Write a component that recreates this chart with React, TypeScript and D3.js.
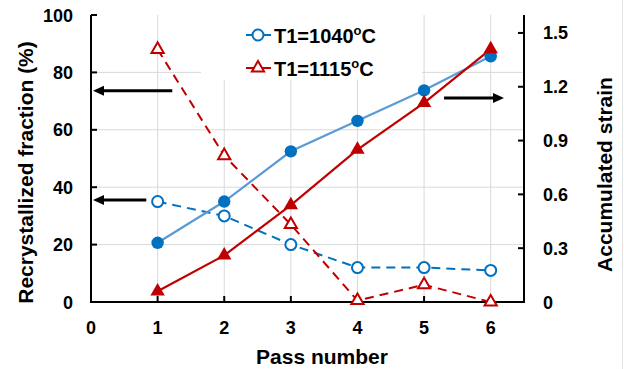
import React, { useEffect, useRef } from 'react';
import * as d3 from 'd3';

// pass numbers and the four series
const passes = [1, 2, 3, 4, 5, 6];
const frac1040 = [35, 30, 20, 12, 12, 11];
const frac1115 = [88, 51, 27, 0.5, 6, 0];
const strain1040 = [0.33, 0.56, 0.84, 1.01, 1.18, 1.37];
const strain1115 = [0.06, 0.26, 0.54, 0.85, 1.11, 1.41];

const xTicks = [0, 1, 2, 3, 4, 5, 6];
const leftTicks = [0, 20, 40, 60, 80, 100];
const rightTicks = [0, 0.3, 0.6, 0.9, 1.2, 1.5];

// annotation arrows: [fromPass, toPass, value, axis]
const arrows: [number, number, number, 'left' | 'right'][] = [
  [1.22, 0.03, 73.6, 'left'],
  [0.83, 0.03, 35.5, 'left'],
  [5.3, 6.2, 1.137, 'right'],
];

const BLUE = '#0070C0';
const LIGHTBLUE = '#5B9BD5';
const RED = '#C00000';
const FONT = '"Liberation Sans", Arial, sans-serif';

function App() {
  const svgRef = useRef<SVGSVGElement>(null);

  useEffect(() => {
    const width = 624;
    const height = 369;
    const margin = { top: 15, right: 100, bottom: 67, left: 91 };
    const innerW = width - margin.left - margin.right;
    const innerH = height - margin.top - margin.bottom;

    const root = d3.select(svgRef.current)
      .attr('width', width)
      .attr('height', height);
    root.selectAll('*').remove();

    root.append('rect').attr('width', width).attr('height', height).attr('fill', '#fff');
    root.append('line')
      .attr('x1', 622.5).attr('x2', 622.5).attr('y1', 0).attr('y2', height)
      .attr('stroke', '#e6e6e6');

    const svg = root.append('g')
      .attr('transform', `translate(${margin.left},${margin.top})`);

    const x = d3.scaleLinear().domain([0, 6.5]).range([0, innerW]);
    const yL = d3.scaleLinear().domain([0, 100]).range([innerH, 0]);
    const yR = d3.scaleLinear().domain([0, 1.6]).range([innerH, 0]);

    // grid
    svg.selectAll('.vgrid')
      .data(passes)
      .enter()
      .append('line')
      .attr('x1', d => x(d)).attr('x2', d => x(d))
      .attr('y1', 0).attr('y2', innerH)
      .attr('stroke', '#d9d9d9').attr('stroke-width', 1);
    svg.selectAll('.hgrid')
      .data([20, 40, 60, 80])
      .enter()
      .append('line')
      .attr('x1', 0).attr('x2', innerW)
      .attr('y1', d => yL(d)).attr('y2', d => yL(d))
      .attr('stroke', '#d9d9d9').attr('stroke-width', 1);

    // legend background covers the grid
    svg.append('rect')
      .attr('x', 110).attr('y', 0).attr('width', 221).attr('height', 65)
      .attr('fill', '#fff');

    // axes
    const axisG = svg.append('g').attr('stroke', '#000').attr('stroke-width', 2).attr('fill', 'none');
    axisG.append('line').attr('x1', 0).attr('x2', 0).attr('y1', 0).attr('y2', innerH + 1);
    axisG.append('line').attr('x1', innerW).attr('x2', innerW).attr('y1', 0).attr('y2', innerH + 1);
    axisG.append('line').attr('x1', -1).attr('x2', innerW + 1).attr('y1', innerH).attr('y2', innerH);
    leftTicks.forEach(t => {
      axisG.append('line').attr('x1', 0).attr('x2', 6).attr('y1', yL(t)).attr('y2', yL(t));
    });
    rightTicks.forEach(t => {
      axisG.append('line').attr('x1', innerW - 6).attr('x2', innerW).attr('y1', yR(t)).attr('y2', yR(t));
    });
    passes.forEach(t => {
      axisG.append('line').attr('x1', x(t)).attr('x2', x(t)).attr('y1', innerH - 6).attr('y2', innerH);
    });

    const label = (g: any) => g.attr('font-family', FONT).attr('font-weight', 'bold').attr('fill', '#000');

    svg.selectAll('.xl').data(xTicks).enter().append('text')
      .call(label).attr('font-size', 18)
      .attr('x', d => x(d)).attr('y', innerH + 32)
      .attr('text-anchor', 'middle').text(d => d);
    svg.selectAll('.yl').data(leftTicks).enter().append('text')
      .call(label).attr('font-size', 18)
      .attr('x', -18).attr('y', d => yL(d) + 6.5)
      .attr('text-anchor', 'end').text(d => d);
    svg.selectAll('.yr').data(rightTicks).enter().append('text')
      .call(label).attr('font-size', 18)
      .attr('x', innerW + 19).attr('y', d => yR(d) + 6.5)
      .attr('text-anchor', 'start').text(d => (d === 0 ? '0' : d.toFixed(1)));

    svg.append('text').call(label).attr('font-size', 21)
      .attr('x', 231).attr('y', innerH + 62)
      .attr('text-anchor', 'middle').text('Pass number');
    svg.append('text').call(label).attr('font-size', 21)
      .attr('transform', `translate(-58,${innerH / 2 + 14}) rotate(-90)`)
      .attr('text-anchor', 'middle').text('Recrystallized fraction (%)');
    svg.append('text').call(label).attr('font-size', 21)
      .attr('transform', `translate(${innerW + 88},${innerH / 2 + 16}) rotate(-90)`)
      .attr('text-anchor', 'middle').text('Accumulated strain');

    // arrows
    arrows.forEach(([from, to, v, side]) => {
      const yy = side === 'left' ? yL(v) : yR(v);
      const x1 = x(from);
      const x2 = x(to);
      const dir = Math.sign(x2 - x1);
      const headLen = 11;
      svg.append('line')
        .attr('x1', x1).attr('x2', x2 - dir * headLen)
        .attr('y1', yy).attr('y2', yy)
        .attr('stroke', '#000').attr('stroke-width', 3);
      svg.append('path')
        .attr('d', `M${x2},${yy} L${x2 - dir * headLen},${yy - 5} L${x2 - dir * headLen},${yy + 5} Z`)
        .attr('fill', '#000');
    });

    const tri = d3.symbol().type(d3.symbolTriangle).size(90);
    const triOpen = d3.symbol().type(d3.symbolTriangle).size(65);

    // recrystallized fraction (dashed, open markers, left axis)
    const lineL = d3.line<number>().x((_, i) => x(passes[i])).y(d => yL(d));
    const lineR = d3.line<number>().x((_, i) => x(passes[i])).y(d => yR(d));

    svg.append('path').datum(frac1040).attr('d', lineL)
      .attr('fill', 'none').attr('stroke', BLUE).attr('stroke-width', 2).attr('stroke-dasharray', '9,6');
    svg.append('path').datum(frac1115).attr('d', lineL)
      .attr('fill', 'none').attr('stroke', RED).attr('stroke-width', 2).attr('stroke-dasharray', '9,6');

    // accumulated strain (solid, filled markers, right axis)
    svg.append('path').datum(strain1040).attr('d', lineR)
      .attr('fill', 'none').attr('stroke', LIGHTBLUE).attr('stroke-width', 2.2);
    svg.append('path').datum(strain1115).attr('d', lineR)
      .attr('fill', 'none').attr('stroke', RED).attr('stroke-width', 2.2);

    svg.selectAll('.oc').data(frac1040).enter().append('circle')
      .attr('cx', (_, i) => x(passes[i])).attr('cy', d => yL(d)).attr('r', 5.5)
      .attr('fill', '#fff').attr('stroke', BLUE).attr('stroke-width', 2);
    svg.selectAll('.ot').data(frac1115).enter().append('path')
      .attr('d', triOpen)
      .attr('transform', (d, i) => `translate(${x(passes[i])},${yL(d)})`)
      .attr('fill', '#fff').attr('stroke', RED).attr('stroke-width', 2);
    svg.selectAll('.fc').data(strain1040).enter().append('circle')
      .attr('cx', (_, i) => x(passes[i])).attr('cy', d => yR(d)).attr('r', 6.2)
      .attr('fill', BLUE);
    svg.selectAll('.ft').data(strain1115).enter().append('path')
      .attr('d', tri)
      .attr('transform', (d, i) => `translate(${x(passes[i])},${yR(d)})`)
      .attr('fill', RED);

    // legend
    const legend = [
      { name: '1040', color: BLUE, marker: 'circle', y: 20 },
      { name: '1115', color: RED, marker: 'triangle', y: 53 },
    ];
    legend.forEach(l => {
      svg.append('line')
        .attr('x1', 155).attr('x2', 180).attr('y1', l.y).attr('y2', l.y)
        .attr('stroke', l.color).attr('stroke-width', 2);
      if (l.marker === 'circle') {
        svg.append('circle').attr('cx', 167).attr('cy', l.y).attr('r', 5.5)
          .attr('fill', '#fff').attr('stroke', l.color).attr('stroke-width', 2);
      } else {
        svg.append('path').attr('d', triOpen).attr('transform', `translate(167,${l.y})`)
          .attr('fill', '#fff').attr('stroke', l.color).attr('stroke-width', 2);
      }
      const t = svg.append('text').call(label).attr('font-size', 20)
        .attr('x', 183).attr('y', l.y + 7.5);
      t.append('tspan').text(`T1=${l.name}`);
      t.append('tspan').attr('font-size', 13).attr('dy', -8).text('o');
      t.append('tspan').attr('dy', 8).text('C');
    });
  }, []);

  return <svg ref={svgRef} style={{ position: 'absolute', left: 0, top: 0 }}></svg>;
}

export default App;
